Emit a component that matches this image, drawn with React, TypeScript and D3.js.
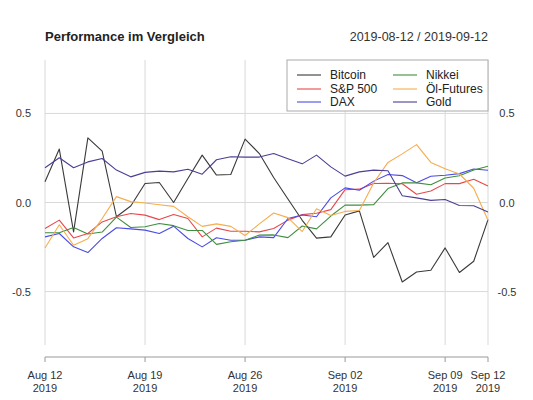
import React from "react";
import * as d3 from "d3";

const dates = [
  "2019-08-12","2019-08-13","2019-08-14","2019-08-15","2019-08-16","2019-08-17","2019-08-18","2019-08-19",
  "2019-08-20","2019-08-21","2019-08-22","2019-08-23","2019-08-24","2019-08-25","2019-08-26","2019-08-27",
  "2019-08-28","2019-08-29","2019-08-30","2019-08-31","2019-09-01","2019-09-02","2019-09-03","2019-09-04",
  "2019-09-05","2019-09-06","2019-09-07","2019-09-08","2019-09-09","2019-09-10","2019-09-11","2019-09-12",
];

const bitcoin = [0.116, 0.30, -0.165, 0.363, 0.288, -0.08, -0.02, 0.107, 0.112, 0.0, 0.135, 0.266, 0.154, 0.157, 0.356, 0.275,
  0.14, 0.02, -0.10, -0.20, -0.193, -0.07, -0.047, -0.308, -0.225, -0.446, -0.39, -0.38, -0.255, -0.393, -0.33, -0.096];
const sp500 = [-0.146, -0.099, -0.199, -0.174, -0.109, -0.08, -0.062, -0.071, -0.096, -0.067, -0.09, -0.193, -0.144, -0.161, -0.161, -0.165,
  -0.146, -0.099, -0.068, -0.06, -0.04, 0.072, 0.075, 0.107, 0.108, 0.105, 0.046, 0.065, 0.106, 0.106, 0.13, 0.093];
const dax = [-0.193, -0.174, -0.249, -0.281, -0.202, -0.142, -0.148, -0.155, -0.174, -0.133, -0.202, -0.249, -0.198, -0.212, -0.212, -0.193,
  -0.197, -0.09, -0.07, -0.08, 0.026, 0.082, 0.069, 0.12, 0.157, 0.151, 0.111, 0.147, 0.153, 0.162, 0.188, 0.181];
const nikkei = [-0.17, -0.17, -0.14, -0.177, -0.166, -0.082, -0.14, -0.136, -0.118, -0.13, -0.157, -0.157, -0.235, -0.22, -0.212, -0.183,
  -0.182, -0.197, -0.132, -0.148, -0.076, -0.015, -0.015, -0.012, 0.078, 0.11, 0.11, 0.1, 0.138, 0.15, 0.182, 0.203];
const oil = [-0.255, -0.125, -0.24, -0.203, -0.09, 0.033, 0.005, -0.003, -0.013, -0.022, -0.08, -0.134, -0.12, -0.134, -0.185, -0.12,
  -0.059, -0.085, -0.163, -0.035, -0.073, -0.05, -0.045, 0.11, 0.225, 0.273, 0.325, 0.225, 0.19, 0.16, 0.08, -0.1];
const gold = [0.195, 0.251, 0.195, 0.228, 0.247, 0.182, 0.144, 0.169, 0.176, 0.172, 0.187, 0.159, 0.24, 0.257, 0.255, 0.255,
  0.275, 0.245, 0.217, 0.266, 0.20, 0.148, 0.172, 0.182, 0.178, 0.038, 0.026, 0.012, 0.017, -0.017, -0.018, -0.053];

const seriesNames = ["Bitcoin", "S&P 500", "DAX", "Nikkei", "Öl-Futures", "Gold"];
const seriesValues = [bitcoin, sp500, dax, nikkei, oil, gold];
const seriesColors = ["#3a3a3a", "#e8484c", "#4b4be6", "#3f8f3f", "#f6ad4e", "#4a3f94"];

const xTickDates = ["2019-08-12", "2019-08-19", "2019-08-26", "2019-09-02", "2019-09-09", "2019-09-12"];
const yTicks = [-0.5, 0, 0.5];

const title = "Performance im Vergleich";
const rangeLabel = "2019-08-12 / 2019-09-12";

const parse = d3.utcParse("%Y-%m-%d");
const fmtMD = d3.utcFormat("%b %d");
const fmtY = d3.utcFormat("%Y");

export default function App() {
  const W = 533, H = 400;
  const left = 45, right = 488, top = 60, bottom = 345;
  const axisY = 357;
  const x = d3.scaleUtc().domain([parse(dates[0])!, parse(dates[dates.length - 1])!]).range([left, right]);
  const y = d3.scaleLinear().domain([-0.8, 0.8]).range([bottom, top]);
  const dd = dates.map((s) => parse(s)!);
  const line = d3.line<number>().x((_, i) => x(dd[i])).y((v) => y(v));
  const font = "'Liberation Sans', Arial, Helvetica, sans-serif";
  const grid = "#d9d9d9";

  const legX = 287, legY = 60, legW = 201, legH = 51;
  const colX = [297, 393];
  const rowY = [75, 89, 102];

  return (
    <svg width={W} height={H} style={{ position: "absolute", left: 0, top: 0, background: "#fff" }} fontFamily={font}>
      <text x={left} y={41} fontSize={13} fontWeight="bold" fill="#222">{title}</text>
      <text x={right} y={41} fontSize={12.5} textAnchor="end" fill="#333">{rangeLabel}</text>

      {xTickDates.map((s) => (
        <line key={"vg" + s} x1={x(parse(s)!)} x2={x(parse(s)!)} y1={top} y2={bottom} stroke={grid} strokeWidth={1} />
      ))}
      {yTicks.map((t) => (
        <line key={"hg" + t} x1={left} x2={right} y1={y(t)} y2={y(t)} stroke={grid} strokeWidth={1} />
      ))}

      {seriesValues.map((vals, i) => (
        <path key={seriesNames[i]} d={line(vals) || ""} fill="none" stroke={seriesColors[i]} strokeWidth={1.1} strokeLinejoin="round" />
      ))}

      {yTicks.map((t) => (
        <g key={"yl" + t} fontSize={11} fill="#333">
          <text x={31} y={y(t) + 4} textAnchor="end">{d3.format(".1f")(t).replace("−", "-")}</text>
          <text x={507} y={y(t) + 4} textAnchor="middle">{d3.format(".1f")(t).replace("−", "-")}</text>
        </g>
      ))}

      <line x1={left} x2={right} y1={axisY} y2={axisY} stroke="#999" strokeWidth={1} />
      {xTickDates.map((s) => {
        const px = x(parse(s)!);
        return (
          <g key={"xt" + s}>
            <line x1={px} x2={px} y1={axisY} y2={axisY + 5} stroke="#999" strokeWidth={1} />
            <text x={px} y={379} fontSize={11} textAnchor="middle" fill="#333">{fmtMD(parse(s)!)}</text>
            <text x={px} y={392} fontSize={11} textAnchor="middle" fill="#333">{fmtY(parse(s)!)}</text>
          </g>
        );
      })}

      <rect x={legX} y={legY} width={legW} height={legH} fill="#fff" stroke="#aaa" strokeWidth={1} />
      {seriesNames.map((n, i) => {
        const c = Math.floor(i / 3), r = i % 3;
        return (
          <g key={"lg" + n}>
            <line x1={colX[c]} x2={colX[c] + 24} y1={rowY[r]} y2={rowY[r]} stroke={seriesColors[i]} strokeWidth={1.1} />
            <text x={colX[c] + 33} y={rowY[r] + 4} fontSize={12} fill="#222">{n}</text>
          </g>
        );
      })}
    </svg>
  );
}
